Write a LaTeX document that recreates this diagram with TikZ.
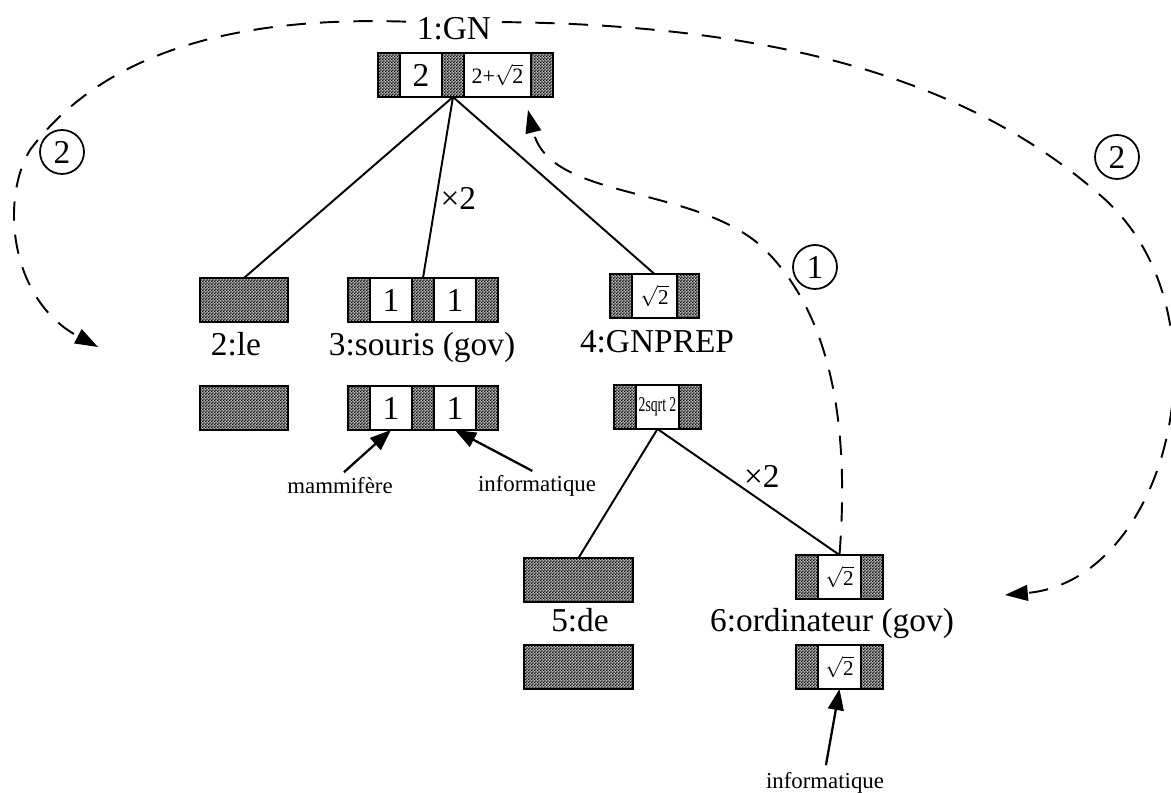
\documentclass[tikz,border=0pt]{standalone}
\usepackage{fontspec}
\setmainfont{Liberation Serif}
\usetikzlibrary{positioning, arrows.meta, patterns}

\pgfdeclarepatternformonly{checker}{\pgfqpoint{0pt}{0pt}}{\pgfqpoint{1.6pt}{1.6pt}}{\pgfqpoint{1.6pt}{1.6pt}}{
  \pgfpathrectangle{\pgfqpoint{0pt}{0pt}}{\pgfqpoint{0.8pt}{0.8pt}}
  \pgfpathrectangle{\pgfqpoint{0.8pt}{0.8pt}}{\pgfqpoint{0.8pt}{0.8pt}}
  \pgfusepath{fill}
}

\tikzstyle{hatch} = [draw, line width=1.3pt, preaction={fill=gray!55}, pattern=checker, minimum height=0.88cm, minimum width=0.44cm, inner sep=0pt, outer sep=0pt]
\tikzstyle{cell} = [draw, line width=1.3pt, fill=white, minimum height=0.88cm, minimum width=0.84cm, inner sep=0pt, outer sep=0pt, font=\fontsize{19}{22}\selectfont]
\tikzstyle{word} = [font=\fontsize{19}{22}\selectfont, inner sep=0pt, anchor=base]
\tikzstyle{small} = [font=\fontsize{13}{15}\selectfont, inner sep=1pt]
\tikzstyle{num} = [draw, circle, line width=1pt, minimum size=0.88cm, inner sep=0pt, font=\fontsize{19}{22}\selectfont]
\tikzstyle{edge} = [line width=1.1pt]
\tikzstyle{flow} = [line width=1.1pt, dash pattern=on 11pt off 8pt, -{Triangle[length=13pt,width=9pt]}]
\tikzstyle{arrow} = [line width=1.3pt, -{Triangle[length=12pt,width=9pt]}]

\newcommand{\rtwo}{$\sqrt{\mbox{2}}$}

\begin{document}
\begin{tikzpicture}[x=0.02cm, y=-0.02cm]
  \useasboundingbox (0,0) rectangle (1171,793);

  % 1:GN
  \node[word] (l1) at (454,40) {1:GN};
  \node[hatch, anchor=north west] (n1a) at (378,53) {};
  \node[cell, right=0pt of n1a] (n1b) {2};
  \node[hatch, right=0pt of n1b] (n1c) {};
  \node[cell, minimum width=1.34cm, font=\fontsize{12.5}{14}\selectfont, right=0pt of n1c] (n1d) {2+\rtwo};
  \node[hatch, right=0pt of n1d] (n1e) {};

  % 2:le
  \node[hatch, minimum width=1.76cm, anchor=north west] (n2) at (200,278) {};
  \node[word] (l2) at (236,356) {2:le};
  \node[hatch, minimum width=1.76cm, anchor=north west] (s2) at (200,386) {};

  % 3:souris
  \node[hatch, anchor=north west] (n3a) at (348,278) {};
  \node[cell, right=0pt of n3a] (n3b) {1};
  \node[hatch, right=0pt of n3b] (n3c) {};
  \node[cell, right=0pt of n3c] (n3d) {1};
  \node[hatch, right=0pt of n3d] (n3e) {};
  \node[word] (l3) at (422,356) {3:souris (gov)};
  \node[hatch, anchor=north west] (s3a) at (348,386) {};
  \node[cell, right=0pt of s3a] (s3b) {1};
  \node[hatch, right=0pt of s3b] (s3c) {};
  \node[cell, right=0pt of s3c] (s3d) {1};
  \node[hatch, right=0pt of s3d] (s3e) {};
  \node[small] (m1) at (340,486) {mammifère};
  \node[small] (i1) at (537,486) {informatique};

  % 4:GNPREP
  \node[hatch, anchor=north west] (n4a) at (610,274) {};
  \node[cell, minimum width=0.9cm, font=\fontsize{12}{14}\selectfont, right=0pt of n4a] (n4b) {\rtwo};
  \node[hatch, right=0pt of n4b] (n4c) {};
  \node[word] (l4) at (657,353) {4:GNPREP};
  \node[hatch, anchor=north west] (s4a) at (614,385) {};
  \node[cell, minimum width=0.86cm, font=\fontsize{12}{14}\selectfont, right=0pt of s4a] (s4b) {\scalebox{0.65}[1]{2sqrt 2}};
  \node[hatch, right=0pt of s4b] (s4c) {};

  % 5:de
  \node[hatch, minimum width=2.18cm, anchor=north west] (n5) at (524,558) {};
  \node[word] (l5) at (580,632) {5:de};
  \node[hatch, minimum width=2.18cm, anchor=north west] (s5) at (524,645) {};

  % 6:ordinateur
  \node[hatch, anchor=north west] (n6a) at (796,555) {};
  \node[cell, minimum width=0.86cm, font=\fontsize{12}{14}\selectfont, right=0pt of n6a] (n6b) {\rtwo};
  \node[hatch, right=0pt of n6b] (n6c) {};
  \node[word] (l6) at (832,632) {6:ordinateur (gov)};
  \node[hatch, anchor=north west] (s6a) at (796,645) {};
  \node[cell, minimum width=0.86cm, font=\fontsize{12}{14}\selectfont, right=0pt of s6a] (s6b) {\rtwo};
  \node[hatch, right=0pt of s6b] (s6c) {};
  \node[small] (i2) at (825,783) {informatique};

  % tree
  \draw[edge] (n1c.south) -- (n2.north);
  \draw[edge] (n1c.south) -- (n3c.north) node[word, pos=0.56, anchor=west, xshift=2pt] (x1) {×2};
  \draw[edge] (n1c.south) -- (n4b.north);
  \draw[edge] (s4b.south) -- (n5.north);
  \draw[edge] (s4b.south) -- (n6b.north) node[word, pos=0.47, anchor=south west, xshift=0pt] (x2) {×2};

  % senses
  \draw[arrow, shorten <=3pt] (m1.north) -- (s3b.south);
  \draw[arrow, shorten <=3pt] (i1.north) -- (s3d.south);
  \draw[arrow, shorten <=3pt] (i2.north) -- (s6b.south);

  % propagation
  \coordinate (t2) at (98,347);
  \coordinate (t6) at (1005,595);
  \coordinate (t1) at (528,110);
  \draw[flow] (n6b.north) .. controls (850,420) and (830,310) .. (760,245)
    .. controls (690,185) and (550,200) .. (t1);
  \draw[flow, shorten <=6pt] (l1.west |- 0,22) .. controls (200,15) and (90,70) .. (30,150)
    .. controls (0,200) and (10,300) .. (t2);
  \draw[flow, shorten <=6pt] (l1.east |- 0,22) .. controls (800,25) and (980,90) .. (1100,195)
    .. controls (1235,310) and (1170,580) .. (t6);
  \node[num] (c1) at (815,267) {1};
  \node[num] (c2) at (62,152) {2};
  \node[num] (c3) at (1117,157) {2};
\end{tikzpicture}
\end{document}
